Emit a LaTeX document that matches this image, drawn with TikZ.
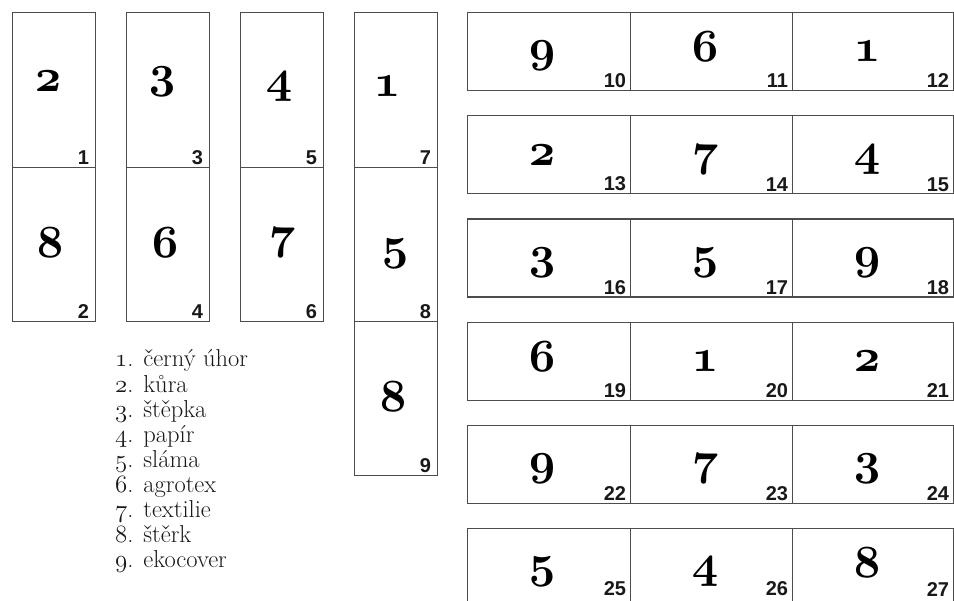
\documentclass[tikz,border=0pt]{standalone}
\usepackage{fontspec}
\usetikzlibrary{positioning}
\newfontfamily\numfont{Liberation Sans}

% old-style figures (Computer Modern math italic)
\newcommand\bigfont{\fontsize{24.88}{25}\usefont{OML}{cmm}{b}{it}}
\newcommand\osnum[1]{{\usefont{OML}{cmm}{m}{it}#1}}

\tikzset{
  bed/.style={draw=black!70, line width=1.2pt, inner sep=0pt, anchor=north west},
  mulch/.style={inner sep=0pt, anchor=base, scale=1.85, font=\bigfont},
  bednum/.style={inner sep=0pt, text=black!90, font=\numfont\bfseries\fontsize{20}{20}\selectfont},
  keyitem/.style={inner sep=0pt, anchor=base west, text=black!90, font=\fontsize{24.5}{25}\selectfont}
}

\begin{document}
\begin{tikzpicture}[x=1pt,y=-1pt]
  \useasboundingbox (0,0) rectangle (954,601);
  % vertical strips
  \foreach \x/\s in {12/a,126/b,240/c,354/d} {
    \node[bed, minimum width=83pt, minimum height=155pt] (\s1) at (\x,12) {};
    \node[bed, minimum width=83pt, minimum height=154pt] (\s2) at (\x,167) {};
  }
  \node[bed, minimum width=83pt, minimum height=154pt] (d3) at (354,321) {};
  % materials in the strips
  \node[mulch] (ma1) at (48,92) {2};
  \node[mulch] (ma2) at (50,258) {8};
  \node[mulch] (mb1) at (162,88) {3};
  \node[mulch] (mb2) at (165,258) {6};
  \node[mulch] (mc1) at (279,93) {4};
  \node[mulch] (mc2) at (282,249) {7};
  \node[mulch] (md1) at (387,97) {1};
  \node[mulch] (md2) at (395,260) {5};
  \node[mulch] (md3) at (393,412) {8};
  % plot numbers
  \node[bednum, above left=3pt and 7pt of a1.south east] (n1) {1};
  \node[bednum, above left=3pt and 7pt of a2.south east] (n2) {2};
  \node[bednum, above left=3pt and 7pt of b1.south east] (n3) {3};
  \node[bednum, above left=3pt and 7pt of b2.south east] (n4) {4};
  \node[bednum, above left=3pt and 7pt of c1.south east] (n5) {5};
  \node[bednum, above left=3pt and 7pt of c2.south east] (n6) {6};
  \node[bednum, above left=3pt and 7pt of d1.south east] (n7) {7};
  \node[bednum, above left=3pt and 7pt of d2.south east] (n8) {8};
  \node[bednum, above left=3pt and 7pt of d3.south east] (n9) {9};
  % horizontal rows (the last one runs off the bottom)
  \foreach \m/\n [count=\k from 0] in {9/10,6/11,1/12,2/13,7/14,4/15,3/16,5/17,9/18,
      6/19,1/20,2/21,9/22,7/23,3/24,5/25,4/26,8/27} {
    \pgfmathtruncatemacro\r{\k/3}
    \pgfmathtruncatemacro\c{mod(\k,3)}
    \pgfmathsetmacro\lx{{467,630,792}[\c]}
    \pgfmathsetmacro\cw{{163,162,161}[\c]}
    \pgfmathsetmacro\ty{12+103.2*\r}
    \pgfmathsetmacro\up{\r==5 ? 11 : 3}
    \node[bed, minimum width=\cw pt, minimum height=78pt] (r\n) at (\lx,\ty) {};
    \node[mulch] (m\n) at (\lx+75,\ty+50) {\m};
    \node[bednum, above left=\up pt and 5pt of r\n.south east] (n\n) {\n};
  }
  % key
  \foreach \i/\t in {1/černý úhor,2/kůra,3/štěpka,4/papír,5/sláma,6/agrotex,
      7/textilie,8/štěrk,9/ekocover}
    \node[keyitem] (k\i) at (115,367+25.1*\i-25.1) {\osnum{\i}. \t};
\end{tikzpicture}
\end{document}
